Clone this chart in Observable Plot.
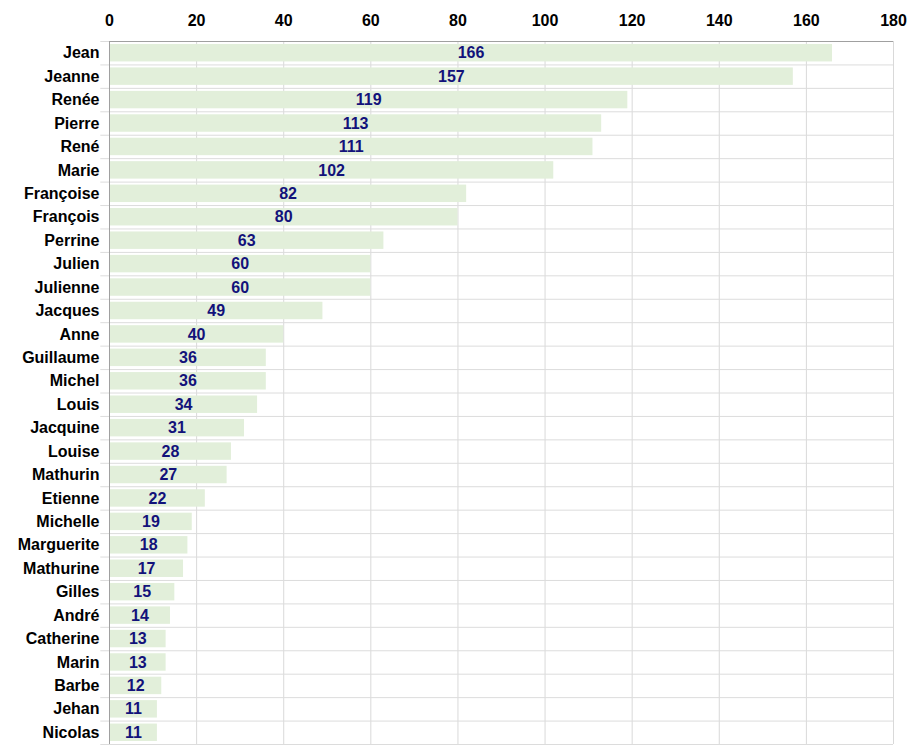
<!DOCTYPE html>
<html>
<head>
<meta charset="utf-8">
<script src="https://cdn.jsdelivr.net/npm/d3@7"></script>
<script src="https://cdn.jsdelivr.net/npm/@observablehq/plot@0.6"></script>
<style>
  html, body { margin: 0; padding: 0; background: #fff; }
  svg { display: block; }
</style>
</head>
<body>
<div id="chart"></div>
<script>
const names = ["Jean","Jeanne","Renée","Pierre","René","Marie","Françoise","François","Perrine","Julien","Julienne","Jacques","Anne","Guillaume","Michel","Louis","Jacquine","Louise","Mathurin","Etienne","Michelle","Marguerite","Mathurine","Gilles","André","Catherine","Marin","Barbe","Jehan","Nicolas"];
const counts = [166,157,119,113,111,102,82,80,63,60,60,49,40,36,36,34,31,28,27,22,19,18,17,15,14,13,13,12,11,11];
const xTicks = [0,20,40,60,80,100,120,140,160,180];

const data = names.map((n, i) => ({name: n, value: counts[i]}));

const W = 913, H = 750, mt = 41, mb = 6, ml = 109, mr = 20;
const step = (H - mt - mb) / names.length;

const chart = Plot.plot({
  width: W,
  height: H,
  marginTop: mt,
  marginBottom: mb,
  marginLeft: ml,
  marginRight: mr,
  style: {fontFamily: "'Liberation Sans', Arial, sans-serif", fontSize: "16px", fontWeight: "bold", color: "#000"},
  x: {domain: [0, 180], ticks: xTicks},
  y: {domain: names, padding: 0, round: false, label: null},
  marks: [
    Plot.gridX(xTicks, {stroke: "#d9d9d9", strokeOpacity: 1}),
    Plot.ruleY(names, {y: d => d, dy: -step / 2, x1: -2, x2: 180, stroke: "#dcdcdc"}),
    Plot.ruleY([names[names.length - 1]], {y: d => d, dy: step / 2, x1: -2, x2: 180, stroke: "#dcdcdc"}),
    Plot.barX(data, {y: "name", x: "value", fill: "#e2efda", insetTop: 3, insetBottom: 3}),
    Plot.ruleY([names[0]], {y: d => d, dy: -step / 2, x1: 0, x2: 180, stroke: "#a0a0a0"}),
    Plot.ruleX([0], {stroke: "#a0a0a0"}),
    Plot.text(data, {y: "name", x: d => d.value / 2, text: d => String(d.value), fill: "#12127a", fontWeight: "bold", fontSize: 16}),
    Plot.axisX(xTicks, {anchor: "top", tickSize: 0, tickPadding: 16, label: null, fontSize: 16, fontWeight: "bold", fill: "#000"}),
    Plot.axisY({anchor: "left", tickSize: 0, tickPadding: 10, label: null, fontSize: 16, fontWeight: "bold", fill: "#000"})
  ]
});

document.getElementById("chart").appendChild(chart);
</script>
</body>
</html>
